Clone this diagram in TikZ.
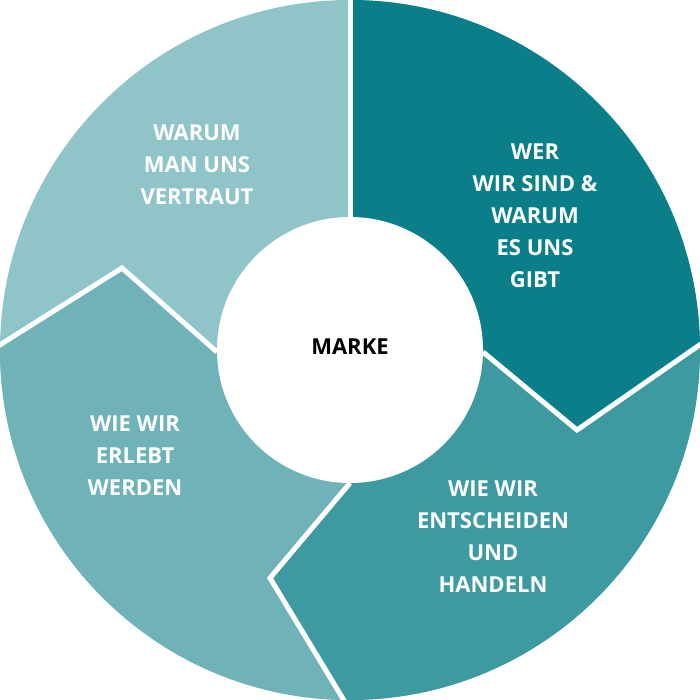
\documentclass[tikz,border=0pt]{standalone}
\usepackage{fontspec}
\setmainfont{Open Sans}
\begin{document}
\begin{tikzpicture}[x=1pt,y=-1pt,
  lbl/.style={text=white,font=\bfseries\fontsize{22}{32}\selectfont,align=center},
  sep/.style={draw=white,line width=5pt,line join=miter}]
\useasboundingbox (0,0) rectangle (700,700);
\definecolor{ctl}{HTML}{8FC5C8}
\definecolor{ctr}{HTML}{0A7F89}
\definecolor{cbr}{HTML}{3D9AA1}
\definecolor{cbl}{HTML}{6FB3B8}
\coordinate (c) at (350,350);
\begin{scope}
\clip (350,350) circle (350);
\fill[ctl] (-10,-10) rectangle (710,710);
\fill[ctr] (350,350)--(350,-10)--(760,-10)--(760,303)--(577,430)--(483,352)--cycle;
\fill[cbr] (350,350)--(483,352)--(577,430)--(760,303)--(760,760)--(380,760)--(270,578)--(350,483)--cycle;
\fill[cbl] (350,350)--(350,483)--(270,578)--(380,760)--(-10,760)--(-40,370)--(122,268)--(217,352)--cycle;
\draw[sep] (350,-10)--(350,350);
\draw[sep] (760,303)--(577,430)--(483,352);
\draw[sep] (380,760)--(270,578)--(350,483);
\draw[sep] (-40,370)--(122,268)--(217,352);
\end{scope}
\fill[white] (c) circle (133);
\node[font=\bfseries\fontsize{22}{32}\selectfont] (m) at (350,347) {MARKE};
\node[lbl] (tl) at (197,165) {WARUM\\MAN UNS\\VERTRAUT};
\node[lbl] (tr) at (535,216) {WER\\WIR SIND \&\\WARUM\\ES UNS\\GIBT};
\node[lbl] (br) at (493,537) {WIE WIR\\ENTSCHEIDEN\\UND\\HANDELN};
\node[lbl] (bl) at (135,456) {WIE WIR\\ERLEBT\\WERDEN};
\end{tikzpicture}
\end{document}
